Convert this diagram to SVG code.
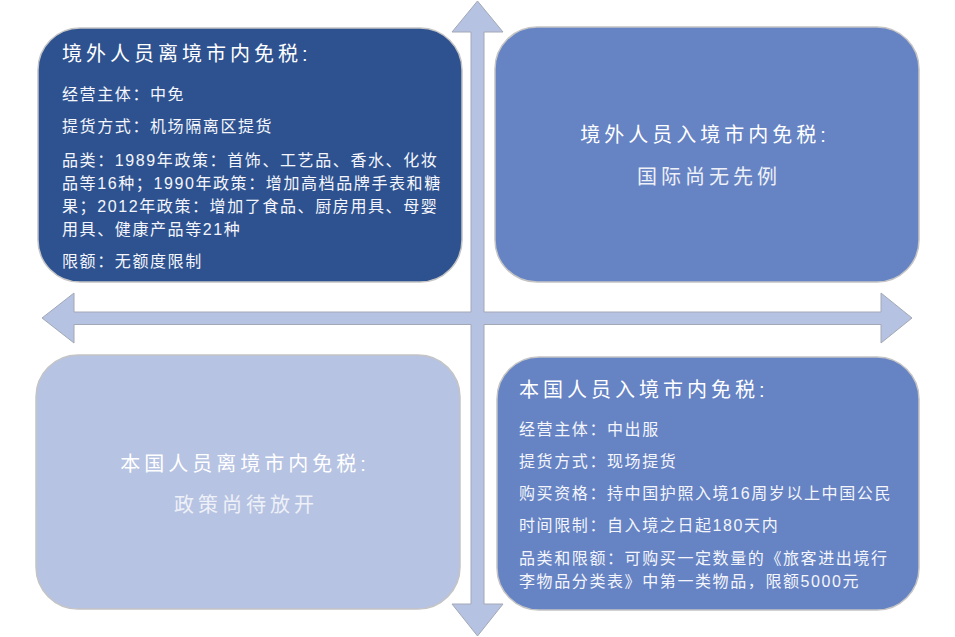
<svg xmlns="http://www.w3.org/2000/svg" width="955" height="637" viewBox="0 0 955 637">
<style>
.box{stroke:#C4C4C4;stroke-width:1.5}
.t{font-family:"Liberation Sans","Noto Sans CJK SC",sans-serif;fill:#FFFFFF}
.ti{font-size:20px;letter-spacing:4px}
.b{font-size:16px;letter-spacing:1.6px;fill:#F4F6FB}
.c{text-anchor:middle}
.sub{fill:#EEF1F8}
</style>
<rect width="955" height="637" fill="#FFFFFF"/>
<g id="connectors">
<path d="M477.5,1 L503,32 L484,32 L484,312 L881,312 L881,293 L912,318 L881,343 L881,324.5 L484,324.5 L484,604 L503,604 L477.5,636 L452,604 L471,604 L471,324.5 L74,324.5 L74,343 L42,318 L74,293 L74,312 L471,312 L471,32 L452,32 Z" fill="#B5C2E1" stroke="#A3A8B5" stroke-width="1"/>
</g>
<g id="node-tl">
<rect class="box" x="38" y="28" width="424" height="254" rx="42" fill="#2E5290"/>
<text class="t ti" x="62" y="61">境外人员离境市内免税:</text>
<text class="t b" x="62" y="100">经营主体：中免</text>
<text class="t b" x="62" y="132">提货方式：机场隔离区提货</text>
<text class="t b" x="62" y="166">品类：1989年政策：首饰、工艺品、香水、化妆</text>
<text class="t b" x="62" y="189">品等16种；1990年政策：增加高档品牌手表和糖</text>
<text class="t b" x="62" y="212">果；2012年政策：增加了食品、厨房用具、母婴</text>
<text class="t b" x="62" y="235">用具、健康产品等21种</text>
<text class="t b" x="62" y="267">限额：无额度限制</text>
</g>
<g id="node-tr">
<rect class="box" x="495" y="27" width="424" height="255" rx="42" fill="#6683C4"/>
<text class="t ti c" x="705" y="142">境外人员入境市内免税:</text>
<text class="t ti c sub" x="709" y="184">国际尚无先例</text>
</g>
<g id="node-bl">
<rect class="box" x="36" y="355" width="424" height="254" rx="42" fill="#B7C3E2"/>
<text class="t ti c" x="245" y="471">本国人员离境市内免税:</text>
<text class="t ti c sub" x="246" y="512">政策尚待放开</text>
</g>
<g id="node-br">
<rect class="box" x="497" y="357" width="422" height="253" rx="42" fill="#6683C4"/>
<text class="t ti" x="519" y="397">本国人员入境市内免税:</text>
<text class="t b" x="519" y="435">经营主体：中出服</text>
<text class="t b" x="519" y="467">提货方式：现场提货</text>
<text class="t b" x="519" y="499">购买资格：持中国护照入境16周岁以上中国公民</text>
<text class="t b" x="519" y="531">时间限制：自入境之日起180天内</text>
<text class="t b" x="519" y="564">品类和限额：可购买一定数量的《旅客进出境行</text>
<text class="t b" x="519" y="587">李物品分类表》中第一类物品，限额5000元</text>
</g>
</svg>
